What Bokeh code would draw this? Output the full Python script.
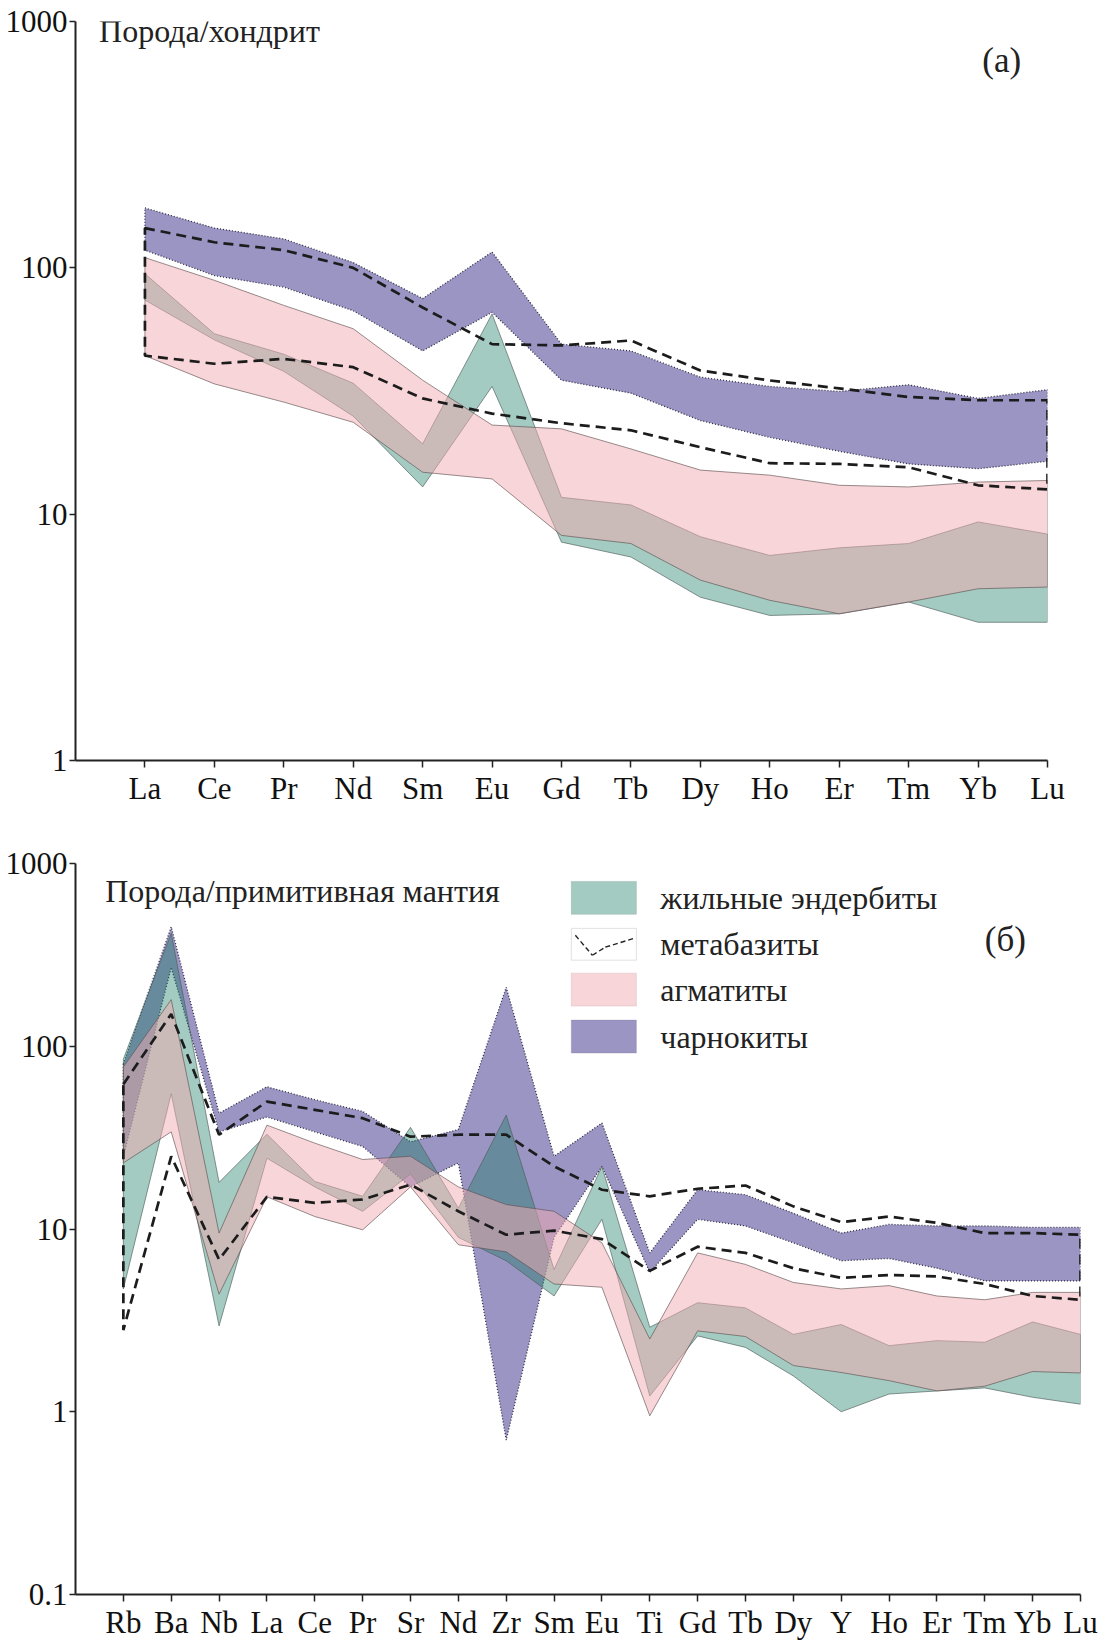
from bokeh.plotting import figure
from bokeh.models import (Range1d, FixedTicker, CustomJSTickFormatter, Label,
                          BoxAnnotation, Arrow)
from bokeh.layouts import column
from bokeh.embed import file_html
from bokeh.resources import INLINE

FONT = "Liberation Serif"

# ---------------- data: panel (a) chondrite-normalised REE ----------------
ree = ["La", "Ce", "Pr", "Nd", "Sm", "Eu", "Gd", "Tb", "Dy", "Ho", "Er", "Tm", "Yb", "Lu"]
a_charn_hi = [175, 145, 131, 105, 75, 116, 49, 46, 36, 33, 31.5, 33.5, 29.5, 32]
a_charn_lo = [118, 93, 83.5, 67, 46, 66, 35, 31, 24, 20.5, 18, 16, 15.3, 16.4]
a_meta_hi = [145, 127, 118, 100, 69, 49, 48.4, 50.7, 38.3, 34.9, 32.4, 29.9, 29, 29]
a_meta_lo = [44, 40.8, 42.7, 39.5, 29.5, 25.6, 23.4, 21.9, 18.7, 16.1, 16, 15.5, 13.1, 12.6]
a_agm_hi = [110, 89, 70.4, 56.6, 35, 23, 22.2, 18.4, 15.1, 14.4, 13.1, 12.9, 13.5, 13.7]
a_agm_lo = [44, 33.8, 28.5, 23.6, 14.8, 13.9, 8.2, 7.6, 5.4, 4.47, 3.94, 4.4, 4.98, 5.06]
a_end_hi = [94.6, 54, 44.6, 34, 19.3, 65, 11.7, 10.9, 8.1, 6.8, 7.3, 7.6, 9.3, 8.3]
a_end_lo = [74, 51, 38, 25, 12.9, 33, 7.7, 6.7, 4.6, 3.88, 3.94, 4.4, 3.64, 3.64]

# ---------------- data: panel (б) primitive-mantle-normalised ----------------
spider = ["Rb", "Ba", "Nb", "La", "Ce", "Pr", "Sr", "Nd", "Zr", "Sm", "Eu",
          "Ti", "Gd", "Tb", "Dy", "Y", "Ho", "Er", "Tm", "Yb", "Lu"]
b_charn_hi = [80, 450, 43, 60, 51, 44, 30, 35, 210, 25, 38, 7.4, 16.4, 15.4, 12.2, 9.5, 10.6, 10.4, 10.4, 10.2, 10.2]
b_charn_lo = [25, 270, 34, 41, 34, 28.3, 17, 23, 0.7, 9, 22, 5.8, 11.3, 10.4, 8.4, 6.7, 6.9, 6.1, 5.2, 5.2, 5.2]
b_meta_hi = [62, 150, 32.8, 49.8, 44.9, 40.4, 32, 32.8, 32.8, 22, 16.4, 15.1, 16.6, 17.3, 13.3, 10.9, 11.7, 10.8, 9.5, 9.5, 9.3]
b_meta_lo = [2.8, 25, 6.8, 15, 13.9, 14.5, 17.5, 12.5, 9.3, 9.8, 8.8, 5.9, 8.0, 7.4, 6.1, 5.4, 5.6, 5.5, 5.0, 4.3, 4.1]
b_agm_hi = [77, 180, 9.5, 37, 29.5, 24, 25, 17, 13.6, 12.5, 8.4, 2.5, 7.4, 6.4, 5.1, 4.7, 4.9, 4.3, 4.1, 4.5, 4.5]
b_agm_lo = [23, 34, 4.4, 15, 11.7, 9.9, 17, 8.2, 7.5, 5.0, 4.8, 0.95, 2.77, 2.58, 1.79, 1.64, 1.48, 1.3, 1.38, 1.66, 1.63]
b_end_hi = [85, 415, 18, 33, 18.2, 15.1, 36, 13, 42, 6, 22, 2.9, 3.95, 3.7, 2.65, 3.0, 2.3, 2.45, 2.4, 3.1, 2.65]
b_end_lo = [4.7, 55, 2.95, 24.4, 17, 12.5, 20, 9, 6.7, 4.3, 11.3, 1.22, 2.6, 2.25, 1.57, 1.0, 1.25, 1.3, 1.35, 1.2, 1.1]

legend_names = ["жильные эндербиты", "метабазиты", "агматиты", "чарнокиты"]

PURPLE = "#9b95c4"
GREEN = "#1a7d64"
GREEN_A = 0.4
PINK = "#f1abb1"
PINK_A = 0.5


def band(hi, lo):
    n = len(hi)
    xs = list(range(1, n + 1)) + list(range(n, 0, -1))
    ys = list(hi) + list(lo)[::-1]
    return xs, ys


def make_fig(labels, ymin, height, top, bottom, right, yticks):
    n = len(labels)
    p = figure(width=1098, height=height, y_axis_type="log",
               x_range=Range1d(0, n), y_range=Range1d(ymin, 1000),
               output_backend="svg", toolbar_location=None,
               min_border_left=75, min_border_right=right,
               min_border_top=top, min_border_bottom=bottom)
    try:
        p.frame_align = False
    except Exception:
        pass
    p.outline_line_color = None
    p.grid.visible = False
    p.background_fill_color = "white"
    p.border_fill_color = "white"
    for ax in p.axis:
        ax.axis_line_width = 2
        ax.axis_line_color = "#222222"
        ax.major_tick_line_width = 1.5
        ax.major_tick_line_color = "#222222"
        ax.minor_tick_line_color = None
        ax.major_tick_in = 0
        ax.major_label_text_font = FONT
        ax.major_label_text_font_size = "31px"
        ax.major_label_text_color = "#111111"
    p.yaxis.ticker = FixedTicker(ticks=yticks)
    p.yaxis.formatter = CustomJSTickFormatter(
        code="return tick < 1 ? tick.toFixed(1) : tick.toFixed(0);")
    p.yaxis.major_tick_out = 6
    p.yaxis.major_label_standoff = 2
    p.xaxis.ticker = FixedTicker(ticks=list(range(1, n + 1)))
    p.xaxis.major_label_overrides = {i + 1: lab for i, lab in enumerate(labels)}
    p.xaxis.major_tick_out = 7
    p.xaxis.major_label_standoff = 3
    return p


def draw_series(p, charn, end, agm, meta):
    xs, ys = band(*charn)
    p.patch(xs, ys, fill_color=PURPLE, fill_alpha=1.0,
            line_color="#2e2c40", line_width=1.3, line_dash="1 2")
    xs, ys = band(*end)
    p.patch(xs, ys, fill_color=GREEN, fill_alpha=GREEN_A,
            line_color="#4d5c58", line_width=0.8, line_alpha=0.8)
    xs, ys = band(*agm)
    p.patch(xs, ys, fill_color=PINK, fill_alpha=PINK_A,
            line_color="#5e4e50", line_width=0.8, line_alpha=0.8)
    xs, ys = band(*meta)
    p.patch(xs, ys, fill_alpha=0.0, line_color="#1c1c1c",
            line_width=2.7, line_dash="10 6")


# ---------------- panel (a) ----------------
pa = make_fig(ree, 1, 820, 21, 60, 51, [1, 10, 100, 1000])
draw_series(pa, (a_charn_hi, a_charn_lo), (a_end_hi, a_end_lo),
            (a_agm_hi, a_agm_lo), (a_meta_hi, a_meta_lo))
pa.add_layout(Label(x=0.34, y=912, text="Порода/хондрит", text_font=FONT,
                    text_font_size="32px", text_baseline="middle",
                    text_color="#222222"))
pa.add_layout(Label(x=13.06, y=695, text="(а)", text_font=FONT,
                    text_font_size="35px", text_baseline="middle",
                    text_color="#222222"))

# ---------------- panel (б) ----------------
pb = make_fig(spider, 0.1, 822, 43, 46, 18, [0.1, 1, 10, 100, 1000])
draw_series(pb, (b_charn_hi, b_charn_lo), (b_end_hi, b_end_lo),
            (b_agm_hi, b_agm_lo), (b_meta_hi, b_meta_lo))
pb.add_layout(Label(x=0.62, y=703, text="Порода/примитивная мантия",
                    text_font=FONT, text_font_size="32px",
                    text_baseline="middle", text_color="#222222"))
pb.add_layout(Label(x=19.0, y=385, text="(б)", text_font=FONT,
                    text_font_size="35px", text_baseline="middle",
                    text_color="#222222"))

# legend (drawn as annotations)
box_left, box_right = 10.36, 11.72
rows = [(10 ** 2.902, 10 ** 2.722), (10 ** 2.645, 10 ** 2.471),
        (10 ** 2.400, 10 ** 2.220), (10 ** 2.143, 10 ** 1.963)]
box_styles = [
    dict(fill_color=GREEN, fill_alpha=GREEN_A, line_color="#7d968f"),
    dict(fill_color="white", fill_alpha=1.0, line_color="#9a9a9a"),
    dict(fill_color=PINK, fill_alpha=PINK_A, line_color="#c4a6aa"),
    dict(fill_color=PURPLE, fill_alpha=1.0, line_color="#7f7a9c"),
]
for (top, bottom), st, name in zip(rows, box_styles, legend_names):
    pb.add_layout(BoxAnnotation(left=box_left, right=box_right, top=top,
                                bottom=bottom, line_width=1, **st))
    ymid = (top * bottom) ** 0.5
    pb.add_layout(Label(x=12.22, y=ymid, text=name, text_font=FONT,
                        text_font_size="32px", text_baseline="middle",
                        text_color="#222222"))

icon = [(10.445, 2.607), (10.80, 2.498), (11.07, 2.542), (11.68, 2.591)]
for (x0, l0), (x1, l1) in zip(icon[:-1], icon[1:]):
    pb.add_layout(Arrow(x_start=x0, y_start=10 ** l0, x_end=x1, y_end=10 ** l1,
                        end=None, line_color="#222222", line_width=1.4,
                        line_dash="5 3"))

layout = column(pa, pb)
open("out.html", "w").write(file_html(layout, INLINE))
